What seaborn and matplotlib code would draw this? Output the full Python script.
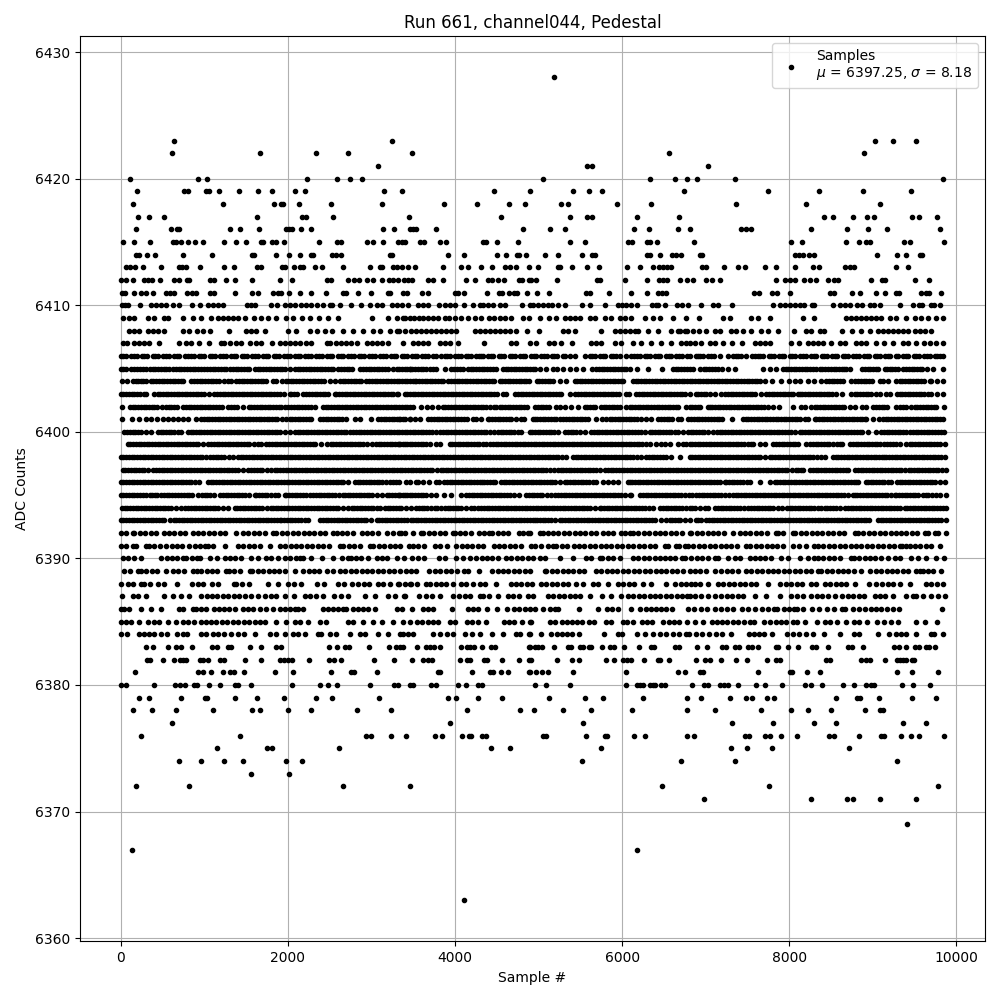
import matplotlib
matplotlib.use("Agg")
import matplotlib.pyplot as plt
import pandas as pd
import seaborn as sns

s6428 = [5184]
s6423 = [632, 3248, 9024, 9240, 9516]
s6422 = [608, 1664, 2336, 2720, 3488, 6564, 8892]
s6421 = [3080, 5576, 5640, 7032]
s6420 = [104, 920, 1028, 2228, 2588, 2744, 2888, 5052, 6336, 6636, 6780, 6900, 7356, 9840]
s6419 = [188, 752, 800, 1016, 1052, 1172, 1412, 1640, 1808, 2084, 2204, 3152, 3368, 4472, 4892, 5412, 5604, 5760, 6744, 7740, 8352, 8880, 9456]
s6418 = [140, 1220, 1832, 1916, 1940, 2132, 2516, 3128, 3872, 4268, 4640, 4832, 5268, 5352, 5940, 6348, 7368, 8196, 9084]
s6417 = [200, 332, 512, 1628, 2168, 2216, 2540, 3452, 4544, 5376, 5576, 5640, 6180, 6684, 8412, 8520, 8760, 8928, 9012, 9468, 9552, 9768]
s6416 = [176, 596, 668, 692, 1304, 1424, 1652, 1976, 2012, 2048, 2156, 2276, 3140, 3272, 3464, 3500, 3536, 3776, 4808, 5136, 5316, 6144, 6324, 6672, 6816, 7424, 7484, 7544, 8256, 8688, 8940, 9168, 9804]
s6415 = [32, 152, 344, 620, 656, 716, 800, 884, 980, 1232, 1376, 1496, 1676, 1700, 1808, 1856, 1952, 2372, 2588, 2636, 2948, 3020, 3140, 3320, 3368, 3404, 3584, 3632, 3824, 3896, 4340, 4376, 4496, 4748, 5376, 5556, 6072, 6120, 6300, 6336, 6420, 6864, 8016, 8148, 8676, 8832, 8916, 8964, 9372, 9444, 9852]
s6414 = [176, 212, 308, 404, 740, 1088, 1568, 1592, 1856, 2012, 2144, 2276, 2300, 2528, 2576, 2636, 3224, 3248, 3920, 4112, 4496, 4604, 4736, 4760, 4844, 5076, 5232, 5520, 5640, 5676, 6300, 6336, 6456, 6600, 6648, 6708, 6936, 6960, 8064, 8112, 8160, 8232, 8292, 9048, 9288, 9396, 9564, 9588]
s6413 = [68, 104, 164, 260, 476, 692, 728, 776, 944, 1232, 1352, 1628, 1676, 1928, 1964, 2072, 2144, 2180, 2324, 2408, 2660, 2984, 3104, 3128, 3260, 3308, 3368, 3440, 3524, 3860, 4076, 4160, 4316, 4448, 4592, 4652, 4724, 4880, 4992, 5232, 5256, 5400, 5580, 5724, 6056, 6216, 6372, 6444, 6492, 6540, 6588, 6960, 7008, 7224, 7392, 7464, 7704, 7836, 8064, 8280, 8352, 8664, 8724, 8772, 9276, 9420]
s6412 = [0, 68, 140, 280, 320, 368, 464, 636, 700, 788, 820, 1068, 1120, 1256, 1364, 1568, 1900, 2052, 2472, 2520, 2720, 2792, 2852, 2948, 3020, 3124, 3212, 3260, 3320, 3392, 3440, 3480, 3680, 3740, 3860, 4136, 4244, 4400, 4440, 4508, 4580, 4760, 4800, 4880, 4912, 4964, 5220, 5700, 5740, 6036, 6300, 6444, 6492, 6540, 6696, 6780, 6852, 7004, 7072, 7176, 7836, 7952, 8012, 8072, 8172, 8244, 8320, 8460, 8540, 8588, 8976, 9108, 9148, 9504, 9672]
s6411 = [12, 52, 152, 236, 300, 380, 540, 590, 640, 788, 850, 900, 1068, 1120, 1364, 1568, 1640, 1820, 1880, 1920, 2012, 2144, 2276, 2460, 2660, 2692, 2840, 3000, 3200, 3220, 3372, 3420, 3600, 3680, 4000, 4040, 4112, 4388, 4520, 4560, 4640, 4700, 4740, 4860, 4980, 5124, 5572, 5612, 5844, 6108, 6300, 6432, 6472, 6520, 7580, 7632, 7792, 7852, 8004, 8484, 8540, 8748, 8844, 9036, 9144, 9272, 9312, 9576, 9636, 9672, 9816]
s6410 = [10, 50, 90, 230, 360, 420, 480, 540, 620, 700, 854, 950, 1042, 1100, 1160, 1220, 1510, 1560, 1600, 1800, 1870, 1960, 2020, 2080, 2160, 2220, 2280, 2350, 2420, 2500, 2530, 2620, 2760, 2880, 2980, 3060, 3130, 3250, 3300, 3370, 3440, 3560, 3620, 3680, 3812, 3880, 3940, 4000, 4108, 4212, 4300, 4340, 4400, 4460, 4540, 4600, 4800, 4900, 4932, 4992, 5052, 5112, 5164, 5232, 5312, 5524, 5616, 5796, 5952, 6000, 6050, 6104, 6172, 6352, 6400, 6432, 6512, 6652, 6712, 6792, 6948, 7092, 7152, 7320, 7804, 7884, 7952, 8012, 8072, 8132, 8172, 8272, 8300, 8520, 8604, 8672, 8732, 8812, 8876, 8964, 9012, 9084, 9324, 9476, 9552, 9592, 9692, 9732, 9804]
s6409 = [22, 102, 160, 322, 402, 522, 562, 750, 862, 962, 1082, 1160, 1222, 1282, 1342, 1400, 1482, 1590, 1682, 1760, 1862, 1982, 2062, 2174, 2262, 2372, 2480, 2600, 3002, 3202, 3302, 3402, 3375, 3455, 3510, 3570, 3620, 3680, 3740, 3800, 3874, 3930, 4000, 4075, 4153, 4233, 4313, 4412, 4472, 4532, 4592, 4672, 4811, 4890, 5011, 5130, 5210, 5310, 5370, 5430, 5490, 5610, 5670, 5790, 5870, 5970, 6030, 6110, 6270, 6370, 6450, 6607, 6760, 6918, 7206, 7286, 7545, 7625, 7764, 8163, 8295, 8682, 8742, 8802, 8862, 8922, 8982, 9042, 9102, 9200, 9281, 9400, 9500, 9580, 9660, 9760, 9840]
s6408 = [102, 162, 222, 322, 382, 442, 522, 742, 822, 910, 982, 1062, 1294, 1502, 1562, 1622, 1722, 2002, 2102, 2262, 2342, 2442, 2522, 2662, 2782, 2902, 3022, 3102, 3222, 3302, 3402, 3335, 3475, 3535, 3595, 3655, 3715, 3775, 3835, 3895, 3955, 4015, 4233, 4293, 4353, 4413, 4473, 4533, 4593, 4653, 4733, 4860, 5003, 5290, 5350, 5430, 5749, 5909, 5969, 6029, 6090, 6150, 6190, 6308, 6428, 6587, 6667, 6747, 6690, 6770, 6850, 6920, 7007, 7107, 7174, 7306, 7366, 7445, 7537, 7665, 7745, 7860, 8056, 8203, 8263, 8363, 8411, 8630, 8754, 8854, 8961, 9061, 9121, 9181, 9241, 9301, 9361, 9421, 9500, 9560, 9620, 9690]
s6407 = [22, 80, 162, 222, 282, 342, 462, 702, 782, 842, 934, 1054, 1202, 1240, 1302, 1382, 1442, 1542, 1622, 1682, 1810, 1910, 1970, 2030, 2090, 2150, 2222, 2282, 2462, 2502, 2580, 2640, 2700, 2760, 2822, 2942, 3002, 3062, 3122, 3202, 3382, 3495, 3555, 3615, 3675, 3814, 3874, 3934, 4033, 4344, 4671, 4731, 4899, 4963, 5130, 5190, 5270, 5398, 5629, 5689, 5749, 5909, 5988, 6128, 6220, 6347, 6467, 6587, 6707, 6767, 6807, 6867, 6947, 7046, 7106, 7206, 7313, 7433, 7585, 7645, 7705, 7772, 8016, 8115, 8223, 8283, 8343, 8403, 8503, 8602, 8662, 8802, 8862, 8922, 9041, 9133, 9240, 9360, 9420, 9520, 9612, 9687, 9760, 9840]
s6406 = [0, 62, 125, 190, 250, 318, 380, 445, 510, 575, 640, 702, 770, 810, 870, 935, 1000, 1062, 1130, 1190, 1256, 1320, 1383, 1450, 1510, 1575, 1640, 1702, 1766, 1830, 1890, 1955, 2020, 2082, 2150, 2210, 2276, 2340, 2402, 2468, 2530, 2596, 2660, 2722, 2785, 2850, 2912, 2976, 3040, 3102, 3168, 3230, 3296, 3360, 3420, 3484, 3548, 3610, 3675, 3738, 3835, 3874, 3940, 4002, 4066, 4130, 4192, 4256, 4313, 4333, 4398, 4460, 4525, 4588, 4652, 4715, 4780, 4842, 4906, 4970, 5034, 5098, 5160, 5225, 5288, 5370, 5438, 5550, 5609, 5672, 5735, 5800, 5862, 5925, 5969, 6048, 6110, 6172, 6208, 6268, 6330, 6395, 6458, 6520, 6585, 6648, 6710, 6775, 6806, 6880, 6906, 6970, 7032, 7095, 7166, 7265, 7330, 7392, 7425, 7485, 7548, 7585, 7625, 7690, 7752, 7815, 7880, 7942, 8005, 8070, 8132, 8195, 8260, 8322, 8386, 8450, 8512, 8575, 8640, 8702, 8766, 8830, 8892, 8956, 9020, 9082, 9146, 9210, 9272, 9300, 9360, 9424, 9488, 9550, 9614, 9678, 9740, 9804, 9840]
s6405 = [0, 60, 120, 160, 225, 300, 350, 415, 480, 545, 580, 630, 695, 760, 825, 890, 960, 1000, 1065, 1130, 1195, 1260, 1310, 1375, 1440, 1505, 1600, 1640, 1705, 1770, 1835, 1900, 1965, 2030, 2080, 2120, 2185, 2250, 2315, 2380, 2445, 2510, 2600, 2640, 2705, 2770, 2860, 2900, 2965, 3030, 3095, 3160, 3260, 3300, 3365, 3460, 3395, 3460, 3525, 3590, 3655, 3735, 3774, 3874, 3953, 4020, 4093, 4153, 4218, 4284, 4350, 4415, 4492, 4572, 4637, 4702, 4768, 4833, 4900, 4960, 5011, 5090, 5170, 5218, 5290, 5370, 5450, 5530, 5640, 5690, 5755, 5820, 5885, 5950, 6050, 6088, 6176, 6308, 6475, 6607, 6672, 6740, 6806, 6847, 6927, 6974, 7040, 7105, 7198, 7265, 7353, 7685, 7765, 7844, 7924, 7990, 8055, 8120, 8185, 8250, 8315, 8363, 8428, 8495, 8560, 8625, 8674, 8730, 8873, 8940, 9005, 9061, 9141, 9205, 9270, 9360, 9400, 9465, 9530, 9592, 9648, 9720, 9840]
s6404 = [20, 80, 140, 180, 245, 300, 360, 425, 490, 555, 620, 685, 750, 840, 880, 945, 1010, 1075, 1140, 1240, 1282, 1322, 1380, 1445, 1510, 1575, 1640, 1705, 1820, 1860, 1925, 1980, 2000, 2065, 2130, 2195, 2260, 2325, 2390, 2500, 2562, 2620, 2685, 2750, 2815, 2880, 2940, 3005, 3070, 3135, 3200, 3265, 3330, 3395, 3460, 3525, 3495, 3535, 3600, 3665, 3730, 3795, 3860, 3914, 3953, 4018, 4083, 4148, 4213, 4278, 4343, 4408, 4472, 4532, 4597, 4662, 4727, 4792, 4851, 4883, 4979, 5044, 5109, 5174, 5250, 5330, 5430, 5495, 5560, 5625, 5690, 5755, 5820, 5885, 5950, 6008, 6128, 6193, 6258, 6323, 6388, 6453, 6518, 6583, 6648, 6713, 6778, 6806, 6870, 6935, 7000, 7065, 7130, 7195, 7260, 7325, 7390, 7455, 7520, 7585, 7645, 7704, 7792, 7904, 8000, 8065, 8123, 8223, 8290, 8383, 8443, 8508, 8573, 8638, 8742, 8790, 8855, 8920, 8985, 9081, 9121, 9186, 9281, 9320, 9385, 9450, 9515, 9580, 9680, 9700, 9765, 9840]
s6403 = [0, 65, 130, 195, 280, 300, 400, 440, 505, 570, 635, 700, 765, 830, 895, 960, 1060, 1120, 1185, 1250, 1315, 1380, 1445, 1510, 1575, 1640, 1705, 1770, 1835, 1900, 2020, 2040, 2105, 2180, 2220, 2285, 2350, 2415, 2480, 2560, 2580, 2645, 2710, 2775, 2840, 2905, 2970, 3035, 3100, 3165, 3230, 3300, 3320, 3395, 3460, 3525, 3590, 3655, 3720, 3785, 3850, 3915, 3980, 4045, 4110, 4175, 4240, 4305, 4370, 4435, 4500, 4572, 4612, 4712, 4752, 4817, 4882, 4947, 5012, 5077, 5142, 5207, 5272, 5378, 5440, 5505, 5570, 5635, 5700, 5765, 5830, 5895, 5960, 6048, 6080, 6168, 6233, 6298, 6363, 6428, 6493, 6558, 6623, 6688, 6753, 6806, 6880, 6945, 7006, 7046, 7111, 7186, 7226, 7265, 7330, 7395, 7460, 7525, 7590, 7665, 7724, 7789, 7854, 7919, 7984, 8049, 8103, 8123, 8188, 8253, 8318, 8383, 8448, 8515, 8562, 8627, 8742, 8782, 8847, 8912, 8977, 9041, 9081, 9161, 9209, 9288, 9353, 9418, 9483, 9548, 9613, 9660, 9700, 9765, 9840]
s6402 = [14, 110, 175, 240, 305, 370, 435, 490, 540, 605, 670, 740, 780, 845, 910, 975, 1040, 1105, 1170, 1280, 1320, 1385, 1460, 1530, 1595, 1660, 1725, 1790, 1855, 1920, 2000, 2040, 2105, 2170, 2235, 2320, 2420, 2485, 2550, 2615, 2680, 2745, 2810, 2875, 2940, 3005, 3070, 3135, 3200, 3265, 3330, 3395, 3460, 3495, 3594, 3660, 3725, 3794, 3854, 3919, 3984, 4049, 4114, 4179, 4244, 4309, 4374, 4472, 4492, 4532, 4597, 4662, 4727, 4792, 4857, 4951, 4991, 5056, 5121, 5210, 5250, 5315, 5390, 5470, 5550, 5615, 5680, 5749, 5777, 5842, 5907, 5972, 6048, 6088, 6153, 6218, 6283, 6348, 6413, 6478, 6543, 6608, 6673, 6767, 6807, 6872, 6937, 7026, 7046, 7111, 7176, 7241, 7306, 7371, 7436, 7501, 7566, 7631, 7696, 7804, 7876, 8044, 8143, 8183, 8263, 8303, 8368, 8433, 8498, 8563, 8628, 8722, 8782, 8873, 8921, 9001, 9041, 9106, 9171, 9281, 9328, 9393, 9460, 9500, 9565, 9630, 9695, 9760, 9851]
s6401 = [14, 134, 222, 302, 362, 434, 500, 565, 620, 682, 740, 810, 900, 965, 1030, 1095, 1160, 1225, 1290, 1355, 1420, 1485, 1550, 1615, 1680, 1745, 1810, 1875, 1980, 2020, 2085, 2150, 2215, 2280, 2380, 2420, 2485, 2550, 2615, 2700, 2800, 2865, 3000, 3080, 3145, 3210, 3275, 3340, 3405, 3460, 3335, 3455, 3515, 3580, 3675, 3714, 3779, 3844, 3909, 3974, 4039, 4104, 4213, 4245, 4310, 4392, 4412, 4477, 4542, 4607, 4672, 4792, 4831, 4931, 4951, 5016, 5081, 5146, 5211, 5290, 5330, 5395, 5460, 5525, 5590, 5689, 5754, 5809, 5849, 5914, 5979, 6044, 6109, 6174, 6288, 6347, 6427, 6467, 6532, 6597, 6667, 6707, 6787, 6827, 6892, 6957, 7026, 7066, 7131, 7196, 7317, 7445, 7510, 7575, 7640, 7705, 7770, 7835, 7900, 7965, 8030, 8095, 8183, 8223, 8303, 8323, 8388, 8453, 8518, 8583, 8648, 8713, 8778, 8843, 8902, 8921, 9001, 9069, 9121, 9186, 9251, 9316, 9381, 9446, 9511, 9576, 9641, 9706, 9771, 9840]
s6400 = [42, 107, 172, 237, 362, 442, 507, 572, 637, 722, 802, 867, 932, 997, 1062, 1127, 1192, 1257, 1322, 1387, 1452, 1517, 1582, 1647, 1712, 1777, 1842, 1907, 2022, 2082, 2147, 2212, 2277, 2342, 2407, 2472, 2537, 2602, 2667, 2742, 2782, 2847, 2912, 2977, 3042, 3107, 3172, 3237, 3302, 3367, 3460, 3335, 3400, 3525, 3590, 3655, 3720, 3814, 3854, 3919, 3984, 4049, 4114, 4179, 4244, 4309, 4374, 4472, 4512, 4577, 4642, 4707, 4792, 4891, 4956, 5021, 5086, 5151, 5230, 5318, 5383, 5448, 5550, 5629, 5694, 5759, 5824, 5889, 5954, 6019, 6084, 6149, 6228, 6276, 6327, 6392, 6457, 6522, 6587, 6627, 6667, 6727, 6787, 6852, 6917, 6982, 7086, 7134, 7199, 7264, 7329, 7394, 7459, 7524, 7589, 7654, 7719, 7784, 7849, 7914, 7979, 8063, 8123, 8188, 8253, 8318, 8383, 8448, 8513, 8578, 8643, 8708, 8773, 8842, 8873, 8941, 9033, 9101, 9166, 9231, 9296, 9361, 9440, 9480, 9545, 9610, 9675, 9740, 9850]
s6399 = [82, 147, 212, 277, 342, 407, 472, 537, 602, 667, 732, 797, 862, 927, 1042, 1082, 1147, 1212, 1277, 1342, 1407, 1472, 1537, 1642, 1682, 1742, 1807, 1872, 1937, 2002, 2067, 2132, 2197, 2262, 2327, 2462, 2510, 2575, 2640, 2705, 2770, 2835, 2902, 2942, 3002, 3054, 3119, 3184, 3249, 3314, 3379, 3460, 3335, 3400, 3525, 3590, 3655, 3766, 3814, 3934, 3965, 4030, 4095, 4160, 4225, 4290, 4372, 4420, 4485, 4550, 4615, 4680, 4745, 4810, 4875, 4940, 5005, 5070, 5135, 5200, 5265, 5330, 5395, 5460, 5525, 5590, 5655, 5720, 5785, 5850, 5915, 5980, 6045, 6110, 6175, 6240, 6335, 6407, 6467, 6507, 6572, 6667, 6727, 6806, 6872, 6937, 7002, 7067, 7132, 7197, 7262, 7327, 7392, 7457, 7545, 7565, 7645, 7710, 7804, 7844, 7909, 7974, 8039, 8104, 8203, 8251, 8316, 8381, 8446, 8522, 8570, 8635, 8730, 8762, 8827, 8892, 8957, 9022, 9087, 9169, 9209, 9274, 9392, 9440, 9505, 9570, 9635, 9700, 9765, 9860]
s6398 = [0, 65, 130, 195, 260, 325, 390, 455, 520, 585, 650, 715, 780, 845, 910, 975, 1062, 1102, 1167, 1232, 1342, 1402, 1467, 1532, 1597, 1662, 1727, 1792, 1857, 1922, 1987, 2052, 2117, 2182, 2247, 2312, 2377, 2442, 2507, 2572, 2637, 2702, 2767, 2832, 2897, 2962, 3027, 3092, 3157, 3222, 3287, 3352, 3417, 3482, 3547, 3612, 3677, 3742, 3807, 3872, 3937, 4002, 4067, 4132, 4197, 4262, 4327, 4392, 4457, 4522, 4587, 4652, 4717, 4782, 4847, 4912, 4977, 5042, 5107, 5172, 5237, 5330, 5410, 5475, 5540, 5605, 5670, 5735, 5800, 5865, 5930, 5995, 6060, 6125, 6228, 6288, 6353, 6418, 6483, 6587, 6695, 6806, 6872, 6937, 7002, 7067, 7132, 7197, 7262, 7327, 7392, 7457, 7522, 7587, 7645, 7712, 7764, 7829, 7894, 7959, 8024, 8089, 8154, 8219, 8284, 8383, 8423, 8522, 8587, 8652, 8717, 8782, 8847, 8912, 8977, 9042, 9113, 9129, 9194, 9259, 9324, 9389, 9454, 9519, 9584, 9649, 9714, 9779, 9860]
s6397 = [22, 87, 152, 217, 282, 382, 422, 487, 552, 617, 682, 747, 812, 877, 942, 1007, 1072, 1137, 1202, 1267, 1332, 1397, 1522, 1562, 1627, 1692, 1802, 1842, 1907, 1972, 2037, 2102, 2167, 2232, 2297, 2362, 2427, 2492, 2557, 2622, 2687, 2752, 2817, 2882, 2947, 3012, 3077, 3142, 3207, 3272, 3337, 3402, 3467, 3532, 3597, 3662, 3727, 3834, 3854, 3919, 3984, 4049, 4114, 4179, 4244, 4309, 4374, 4439, 4504, 4569, 4634, 4699, 4764, 4829, 4894, 4959, 5024, 5089, 5190, 5230, 5295, 5360, 5425, 5490, 5555, 5620, 5689, 5729, 5789, 5829, 5894, 5959, 6024, 6089, 6154, 6219, 6284, 6349, 6414, 6479, 6544, 6609, 6674, 6739, 6806, 6872, 6937, 7002, 7067, 7132, 7197, 7262, 7327, 7392, 7457, 7522, 7587, 7652, 7717, 7782, 7847, 7912, 7977, 8083, 8103, 8168, 8251, 8283, 8348, 8413, 8478, 8543, 8608, 8682, 8702, 8790, 8822, 8887, 8952, 9017, 9082, 9147, 9212, 9277, 9342, 9432, 9460, 9525, 9590, 9655, 9720, 9785, 9870]
s6396 = [0, 65, 130, 195, 260, 325, 390, 455, 520, 585, 650, 715, 780, 845, 940, 1042, 1107, 1172, 1237, 1302, 1367, 1432, 1497, 1562, 1627, 1692, 1757, 1822, 1887, 1952, 2017, 2082, 2147, 2212, 2277, 2342, 2407, 2472, 2537, 2602, 2662, 2722, 2802, 2867, 2932, 2997, 3062, 3127, 3222, 3262, 3327, 3415, 3455, 3535, 3555, 3620, 3685, 3774, 3806, 3871, 3936, 4001, 4066, 4131, 4196, 4261, 4325, 4352, 4417, 4482, 4552, 4580, 4645, 4710, 4775, 4843, 4871, 4936, 5001, 5066, 5131, 5196, 5310, 5342, 5407, 5472, 5537, 5602, 5689, 5769, 5829, 5889, 5954, 6068, 6088, 6153, 6218, 6283, 6348, 6413, 6478, 6543, 6608, 6673, 6738, 6806, 6872, 6937, 7002, 7067, 7132, 7226, 7246, 7311, 7376, 7441, 7533, 7645, 7764, 7824, 7889, 7954, 8019, 8084, 8149, 8214, 8279, 8344, 8409, 8474, 8539, 8604, 8669, 8734, 8802, 8822, 8914, 8941, 9006, 9071, 9136, 9220, 9288, 9353, 9418, 9483, 9548, 9613, 9678, 9743, 9860]
s6395 = [0, 65, 130, 195, 260, 350, 374, 439, 522, 550, 615, 680, 762, 790, 855, 974, 1002, 1067, 1182, 1222, 1287, 1352, 1417, 1482, 1602, 1622, 1687, 1752, 1842, 1882, 1962, 1982, 2047, 2112, 2177, 2262, 2302, 2367, 2432, 2497, 2562, 2662, 2682, 2747, 2812, 2877, 2942, 3007, 3122, 3182, 3247, 3312, 3377, 3460, 3335, 3400, 3525, 3590, 3655, 3774, 3866, 3953, 4073, 4133, 4198, 4263, 4328, 4393, 4458, 4523, 4588, 4653, 4771, 4851, 4916, 4981, 5046, 5150, 5202, 5267, 5332, 5397, 5462, 5527, 5592, 5657, 5722, 5787, 5852, 5917, 5982, 6088, 6108, 6208, 6248, 6313, 6378, 6443, 6508, 6573, 6638, 6703, 6798, 6839, 6886, 6951, 7016, 7081, 7146, 7226, 7277, 7325, 7390, 7455, 7520, 7585, 7650, 7715, 7780, 7845, 7910, 7975, 8040, 8103, 8131, 8196, 8261, 8326, 8391, 8456, 8521, 8586, 8651, 8762, 8782, 8847, 8912, 8977, 9042, 9107, 9172, 9260, 9281, 9346, 9411, 9476, 9540, 9600, 9665, 9760, 9800, 9870]
s6394 = [14, 79, 144, 209, 274, 339, 404, 469, 534, 599, 722, 774, 839, 904, 969, 1034, 1099, 1164, 1282, 1362, 1427, 1492, 1557, 1622, 1687, 1802, 1822, 1887, 1952, 2017, 2082, 2147, 2212, 2277, 2342, 2407, 2472, 2537, 2602, 2722, 2762, 2827, 2892, 2957, 3022, 3102, 3162, 3227, 3292, 3357, 3475, 3535, 3600, 3665, 3754, 3782, 3834, 3874, 3914, 3942, 4007, 4072, 4193, 4221, 4273, 4313, 4378, 4443, 4508, 4573, 4638, 4703, 4768, 4833, 4898, 4963, 5028, 5093, 5158, 5223, 5288, 5353, 5418, 5483, 5548, 5613, 5729, 5749, 5814, 5879, 5944, 6009, 6074, 6139, 6204, 6269, 6367, 6455, 6520, 6585, 6650, 6715, 6806, 6872, 6986, 7026, 7106, 7146, 7211, 7276, 7341, 7406, 7505, 7545, 7610, 7675, 7740, 7805, 7916, 7972, 8037, 8102, 8167, 8232, 8297, 8383, 8423, 8488, 8553, 8670, 8702, 8767, 8832, 8897, 8962, 9027, 9092, 9157, 9222, 9287, 9380, 9412, 9477, 9542, 9607, 9672, 9737, 9802, 9870]
s6393 = [0, 65, 130, 195, 260, 325, 390, 455, 520, 642, 662, 727, 792, 857, 922, 987, 1052, 1117, 1182, 1247, 1312, 1377, 1442, 1507, 1572, 1637, 1702, 1767, 1832, 1902, 1922, 1987, 2052, 2117, 2202, 2242, 2382, 2420, 2485, 2550, 2615, 2680, 2745, 2810, 2875, 2940, 3062, 3094, 3159, 3224, 3289, 3354, 3419, 3475, 3495, 3560, 3625, 3690, 3755, 3820, 3885, 3950, 4015, 4080, 4145, 4210, 4275, 4340, 4405, 4470, 4535, 4600, 4665, 4730, 4795, 4860, 4931, 4951, 5016, 5081, 5146, 5250, 5282, 5347, 5412, 5477, 5542, 5607, 5672, 5737, 5802, 5867, 5932, 5997, 6062, 6127, 6192, 6257, 6322, 6387, 6527, 6567, 6632, 6697, 6806, 6880, 6946, 7006, 7071, 7136, 7201, 7266, 7331, 7396, 7461, 7526, 7591, 7656, 7721, 7786, 7851, 7916, 7981, 8046, 8111, 8176, 8241, 8306, 8371, 8436, 8501, 8566, 8631, 8696, 8761, 8826, 8891, 8956, 9060, 9125, 9190, 9255, 9320, 9385, 9450, 9515, 9580, 9645, 9710, 9775, 9870]
s6392 = [0, 65, 142, 162, 227, 292, 357, 422, 522, 574, 639, 704, 769, 862, 922, 987, 1052, 1117, 1182, 1247, 1382, 1462, 1527, 1592, 1657, 1722, 1822, 1862, 1927, 1992, 2057, 2122, 2187, 2252, 2317, 2382, 2447, 2542, 2582, 2647, 2712, 2777, 2882, 2942, 3007, 3072, 3182, 3262, 3327, 3402, 3355, 3495, 3594, 3622, 3687, 3752, 3817, 3882, 3974, 3994, 4059, 4124, 4189, 4285, 4352, 4412, 4444, 4509, 4574, 4639, 4763, 4811, 4871, 4899, 5011, 5051, 5111, 5170, 5235, 5300, 5365, 5430, 5495, 5560, 5625, 5690, 5769, 5829, 5894, 5988, 6028, 6088, 6128, 6193, 6258, 6323, 6388, 6453, 6518, 6583, 6648, 6713, 6806, 6827, 6892, 6957, 7022, 7087, 7152, 7217, 7325, 7405, 7470, 7535, 7600, 7665, 7730, 7844, 7864, 7929, 8044, 8071, 8136, 8201, 8266, 8331, 8396, 8461, 8526, 8591, 8656, 8782, 8822, 8887, 8952, 9017, 9082, 9147, 9212, 9277, 9340, 9400, 9465, 9530, 9620, 9660, 9740, 9780, 9870]
s6391 = [0, 65, 150, 182, 302, 334, 400, 470, 542, 607, 672, 737, 822, 882, 947, 1002, 1042, 1107, 1242, 1402, 1467, 1532, 1597, 1662, 1790, 1902, 1967, 2032, 2097, 2162, 2227, 2292, 2357, 2422, 2487, 2622, 2662, 2727, 2792, 2857, 2982, 3022, 3087, 3152, 3217, 3282, 3347, 3447, 3495, 3560, 3625, 3754, 3822, 3905, 4013, 4078, 4143, 4208, 4273, 4338, 4472, 4524, 4589, 4654, 4719, 4784, 4911, 4951, 5031, 5111, 5170, 5210, 5275, 5340, 5418, 5482, 5547, 5612, 5677, 5742, 5807, 5872, 5937, 6002, 6067, 6132, 6197, 6262, 6327, 6392, 6507, 6547, 6647, 6679, 6747, 6787, 6852, 6917, 6982, 7047, 7112, 7177, 7242, 7307, 7372, 7485, 7533, 7598, 7663, 7728, 7793, 7858, 7923, 8044, 8115, 8203, 8295, 8343, 8408, 8473, 8538, 8603, 8668, 8733, 8798, 8863, 8928, 8993, 9058, 9123, 9188, 9253, 9320, 9352, 9400, 9440, 9505, 9570, 9635, 9700, 9807]
s6390 = [22, 87, 162, 242, 482, 547, 612, 677, 750, 782, 847, 910, 942, 1062, 1150, 1242, 1307, 1372, 1437, 1562, 1642, 1742, 1802, 1882, 1962, 2027, 2092, 2142, 2182, 2274, 2402, 2534, 2650, 2722, 2750, 2815, 2880, 2962, 3062, 3127, 3182, 3302, 3390, 3487, 3554, 3634, 3806, 3885, 4013, 4093, 4181, 4253, 4318, 4383, 4448, 4513, 4612, 4671, 4739, 4804, 4869, 4934, 5011, 5079, 5258, 5410, 5562, 5627, 5729, 5761, 5826, 5891, 5968, 6128, 6193, 6258, 6323, 6388, 6447, 6507, 6572, 6637, 6747, 6719, 6827, 6892, 6957, 7022, 7106, 7146, 7265, 7345, 7410, 7525, 7585, 7650, 7715, 7780, 7904, 7984, 8131, 8223, 8295, 8343, 8408, 8473, 8538, 8603, 8742, 8770, 8835, 8900, 8965, 9030, 9095, 9181, 9260, 9325, 9460, 9540, 9632, 9760, 9851]
s6389 = [42, 107, 202, 242, 307, 372, 437, 542, 622, 687, 752, 862, 910, 962, 1027, 1092, 1157, 1262, 1294, 1359, 1424, 1542, 1574, 1639, 1704, 1769, 1834, 1899, 1964, 2082, 2182, 2247, 2312, 2377, 2462, 2534, 2622, 2687, 2752, 2817, 2882, 2947, 3012, 3077, 3142, 3207, 3272, 3337, 3415, 3475, 3535, 3694, 3759, 3824, 3889, 3954, 4019, 4113, 4153, 4285, 4444, 4509, 4574, 4639, 4704, 4769, 4834, 4899, 5071, 5091, 5156, 5221, 5286, 5351, 5416, 5481, 5546, 5689, 5749, 5814, 5879, 5944, 6009, 6074, 6139, 6204, 6269, 6334, 6399, 6464, 6529, 6594, 6659, 6724, 6806, 6872, 6937, 7002, 7106, 7186, 7251, 7316, 7381, 7485, 7545, 7610, 7675, 7740, 7805, 7870, 7935, 8000, 8065, 8130, 8195, 8260, 8343, 8383, 8448, 8513, 8578, 8643, 8708, 8773, 8862, 8969, 9034, 9099, 9164, 9229, 9294, 9359, 9424, 9520, 9560, 9600, 9660, 9725, 9820]
s6388 = [2, 82, 147, 242, 282, 347, 442, 514, 674, 854, 919, 984, 1094, 1162, 1350, 1382, 1447, 1534, 1762, 1882, 2002, 2067, 2162, 2350, 2430, 2602, 2667, 2762, 2842, 2907, 2972, 3082, 3142, 3222, 3322, 3402, 3460, 3335, 3475, 3540, 3654, 3702, 3767, 3832, 3897, 3974, 4073, 4133, 4213, 4293, 4358, 4492, 4671, 4731, 4791, 4856, 4921, 5031, 5091, 5156, 5221, 5286, 5351, 5450, 5530, 5649, 5714, 5829, 5949, 6014, 6079, 6144, 6248, 6347, 6519, 6627, 6707, 6767, 6827, 6867, 6932, 7026, 7146, 7211, 7276, 7341, 7406, 7471, 7536, 7601, 7745, 7884, 7964, 8024, 8089, 8154, 8263, 8323, 8423, 8488, 8553, 8618, 8683, 8782, 8953, 9041, 9113, 9178, 9240, 9320, 9440, 9632, 9697, 9762, 9840]
s6387 = [14, 142, 202, 302, 522, 622, 722, 822, 962, 1027, 1092, 1157, 1222, 1287, 1352, 1417, 1482, 1562, 1642, 1722, 1802, 1862, 1962, 2070, 2202, 2262, 2340, 2422, 2550, 2635, 2722, 2922, 3042, 3202, 3282, 3402, 3387, 3574, 3654, 3730, 3814, 3973, 4053, 4118, 4183, 4293, 4340, 4412, 4512, 4632, 4691, 4771, 4871, 4931, 5111, 5176, 5241, 5306, 5371, 5436, 5501, 5609, 5761, 5861, 5988, 6068, 6133, 6198, 6263, 6328, 6393, 6458, 6523, 6588, 6653, 6718, 6806, 6775, 6867, 6946, 7026, 7114, 7186, 7251, 7316, 7381, 7446, 7585, 7724, 7884, 8024, 8089, 8163, 8263, 8328, 8393, 8458, 8542, 8630, 8702, 8767, 8832, 8897, 9021, 9081, 9146, 9240, 9400, 9480, 9520, 9600, 9700, 9780, 9860]
s6386 = [0, 40, 100, 236, 356, 476, 692, 740, 860, 900, 960, 1020, 1120, 1180, 1240, 1300, 1364, 1460, 1520, 1580, 1668, 1732, 1820, 1900, 1960, 2020, 2080, 2120, 2180, 2420, 2480, 2540, 2600, 2660, 2700, 2780, 2840, 2900, 2960, 3040, 3300, 3360, 3480, 3620, 3680, 3740, 3964, 4160, 4220, 4280, 4380, 4500, 4620, 4700, 4760, 4840, 4900, 4960, 5052, 5132, 5200, 5232, 5484, 5712, 5820, 5880, 5952, 6100, 6212, 6280, 6340, 6400, 6460, 6520, 6592, 6792, 6860, 6940, 7020, 7112, 7180, 7260, 7332, 7432, 7500, 7592, 7672, 7740, 7820, 7852, 7932, 8000, 8060, 8092, 8164, 8272, 8352, 8452, 8532, 8632, 8672, 8760, 8832, 8900, 8972, 9040, 9100, 9172, 9240, 9312, 9824]
s6385 = [0, 60, 120, 220, 320, 400, 460, 560, 660, 740, 800, 880, 960, 1020, 1080, 1145, 1210, 1275, 1340, 1405, 1470, 1535, 1600, 1665, 1720, 1860, 1980, 2080, 2140, 2240, 2380, 2460, 2720, 2780, 2900, 3020, 3120, 3260, 3380, 3460, 3540, 3600, 3680, 3740, 3800, 3940, 4000, 4140, 4200, 4280, 4368, 4580, 4640, 4700, 4800, 4900, 4912, 5132, 5200, 5280, 5340, 5400, 5460, 5520, 5600, 5660, 5812, 5872, 6012, 6052, 6132, 6232, 6292, 6352, 6492, 6560, 6620, 6680, 6772, 6872, 6972, 7072, 7140, 7200, 7260, 7330, 7390, 7452, 7532, 7580, 7692, 7772, 7840, 7900, 7960, 8040, 8092, 8184, 8332, 8432, 8492, 8572, 8680, 8772, 8840, 8932, 9052, 9132, 9212, 9300, 9512, 9628, 9772]
s6384 = [0, 80, 220, 280, 340, 400, 480, 552, 668, 740, 788, 960, 1020, 1100, 1160, 1240, 1320, 1400, 1480, 1600, 1780, 1860, 1960, 2060, 2120, 2204, 2360, 2400, 2500, 2572, 2740, 2860, 2920, 3080, 3200, 3340, 3380, 3440, 3500, 3740, 3820, 3900, 3980, 4120, 4200, 4300, 4440, 4568, 4732, 4780, 4880, 4892, 5032, 5152, 5220, 5280, 5340, 5400, 5484, 5784, 5952, 5992, 6172, 6272, 6372, 6450, 6524, 6604, 6680, 6760, 6800, 6880, 6960, 7040, 7120, 7200, 7300, 7512, 7572, 7632, 7692, 7792, 7972, 8040, 8120, 8200, 8280, 8412, 8612, 8772, 8832, 9064, 9192, 9272, 9332, 9400, 9512, 9692, 9732, 9844]
s6383 = [296, 380, 560, 656, 716, 848, 1088, 1148, 1280, 1316, 1544, 1676, 1856, 1916, 2492, 2588, 2684, 2732, 2972, 3212, 3296, 3344, 3380, 3548, 3656, 3704, 3752, 3824, 4076, 4148, 4184, 4232, 4328, 4436, 4484, 4880, 4892, 4956, 4992, 5040, 5184, 5352, 5388, 5496, 5532, 5604, 5628, 5760, 5856, 5904, 6024, 6196, 6348, 6384, 6636, 6684, 6900, 7020, 7200, 7248, 7356, 7404, 7500, 7548, 7620, 7836, 7860, 7980, 8100, 8268, 8316, 8460, 8700, 8748, 8880, 9252, 9312, 9396, 9504, 9552, 9636, 9672, 9744]
s6382 = [308, 344, 508, 632, 704, 740, 776, 944, 980, 1040, 1184, 1232, 1484, 1676, 1904, 1952, 2000, 2048, 2252, 2492, 2552, 2636, 3032, 3272, 3488, 3620, 3680, 3728, 4064, 4148, 4184, 4352, 4388, 4556, 4760, 4880, 4908, 5220, 5400, 5484, 5808, 5904, 6012, 6060, 6108, 6264, 6432, 6456, 6564, 6888, 6996, 7056, 7188, 7368, 7488, 7728, 7836, 7884, 8436, 8488, 8856, 8916, 8964, 9144, 9288, 9324, 9360, 9396, 9468, 9492]
s6381 = [164, 920, 980, 1076, 1220, 1304, 1352, 1472, 1844, 2060, 2516, 2756, 2792, 3068, 3800, 3824, 4208, 4424, 4460, 4544, 4628, 4880, 4892, 4968, 5040, 5112, 5412, 6048, 6672, 6756, 6936, 6972, 7620, 8004, 8028, 8208, 8364, 9288, 9468, 9780]
s6380 = [8, 60, 392, 644, 704, 764, 872, 908, 1052, 1184, 1364, 1400, 1556, 2048, 2384, 2480, 2588, 2984, 3272, 3320, 3464, 3500, 3716, 3776, 4040, 4136, 4280, 4328, 4956, 5088, 5376, 6048, 6180, 6212, 6252, 6336, 6372, 6396, 6468, 6508, 6840, 6984, 7032, 7176, 7224, 7272, 7392, 7604, 7704, 7908, 8184, 8256, 8388, 8640, 8772, 8916, 8976, 9012, 9348, 9480, 9684]
s6379 = [212, 332, 716, 1004, 1028, 1364, 1628, 1952, 2336, 2528, 3092, 3920, 4016, 4280, 4556, 5124, 5556, 5772, 6252, 6780, 6948, 7296, 7476, 7548, 7728, 7812, 8556, 8808, 8844, 9072, 9468, 9756]
s6378 = [140, 368, 656, 1100, 1568, 1664, 2000, 2276, 2828, 3236, 4148, 4772, 4944, 5292, 5628, 6120, 6780, 7116, 7656, 8016, 8220, 8496, 8904, 9084, 9120]
s6377 = [608, 3944, 5532, 7320, 7800, 8292, 8556, 9360, 9636]
s6376 = [236, 1424, 2936, 2996, 3236, 3416, 3764, 3848, 4088, 4172, 4196, 4328, 4376, 5052, 5084, 5568, 5796, 5820, 6144, 6276, 6780, 6864, 7464, 7512, 7704, 7764, 7896, 8088, 8472, 8532, 8832, 9096, 9132, 9336, 9456, 9552, 9852]
s6375 = [1148, 1748, 1808, 2612, 4436, 4652, 5748, 7308, 7488, 7788, 8712]
s6374 = [692, 956, 1232, 1460, 1976, 2168, 5520, 6708, 7356, 9288]
s6373 = [1556, 2012]
s6372 = [176, 812, 2660, 3464, 6480, 7752, 9780]
s6371 = [6984, 8256, 8688, 8760, 9084, 9516]
s6369 = [9408]
s6367 = [128, 6180]
s6363 = [4112]

# further samples read from the solid stretches of the densest rows
more_6406 = [30, 155, 280, 410, 540, 670, 840, 965, 1095, 1225, 1350, 1480, 1610, 1735, 1860, 1990, 2115, 2245, 2370, 2500, 2630, 2755, 2880, 3010, 3135, 3265, 3390, 3515, 3645, 3770, 3905, 4035, 4160, 4285, 4430, 4555, 4685, 4810, 4940, 5065, 5190, 5320, 5640, 5770, 5895, 6140, 6300, 6425, 6555, 6680, 6935, 7062, 7360, 7655, 7785, 7910, 8035, 8165, 8290, 8418, 8545, 8670, 8798, 8925, 9050, 9178, 9392, 9520, 9645, 9772]
more_6405 = [30, 190, 260, 385, 450, 515, 660, 725, 790, 860, 925, 1030, 1100, 1165, 1230, 1340, 1405, 1470, 1540, 1670, 1735, 1800, 1865, 1930, 2150, 2215, 2280, 2345, 2410, 2475, 2545, 2670, 2735, 2930, 2995, 3060, 3125, 3195, 3330, 3425, 3490, 3555, 3620, 3695, 3985, 4055, 4185, 4250, 4317, 4380, 4450, 4605, 4670, 4735, 4800, 4865, 4930, 5720, 5785, 5850, 5915, 5990, 6020, 6640, 6705, 6770, 7005, 7070, 7150, 7955, 8020, 8085, 8150, 8215, 8280, 8395, 8460, 8530, 8590, 8650, 8905, 8970, 9035, 9170, 9235, 9300, 9430, 9495, 9560]
more_6404 = [210, 270, 390, 455, 520, 585, 650, 715, 910, 975, 1040, 1105, 1170, 1415, 1480, 1545, 1610, 1675, 1740, 2035, 2100, 2165, 2230, 2295, 2360, 2430, 2655, 2720, 2785, 2845, 2975, 3040, 3105, 3170, 3235, 3300, 3365, 3430, 3570, 3635, 3700, 3765, 3830, 3985, 4050, 4115, 4180, 4245, 4310, 4375, 4440, 4565, 4630, 4695, 4760, 4825, 5010, 5075, 5140, 5460, 5525, 5590, 5655, 5720, 5785, 5850, 5915, 5980, 6160, 6225, 6290, 6355, 6420, 6485, 6550, 6615, 6680, 6745, 6838, 6902, 6968, 7032, 7098, 7162, 7228, 7292, 7358, 7422, 7488, 7552, 7615, 8475, 8540, 8605, 8825, 8890, 8955, 9350, 9415, 9480, 9545, 9610]
more_6403 = [32, 98, 162, 235, 472, 538, 602, 668, 732, 798, 862, 928, 1000, 1152, 1218, 1282, 1348, 1412, 1478, 1542, 1608, 1672, 1738, 1802, 1868, 1950, 2072, 2252, 2318, 2382, 2448, 2612, 2678, 2742, 2808, 2872, 2938, 3002, 3068, 3132, 3198, 3262, 3428, 3492, 3558, 3622, 3688, 3752, 3818, 3882, 3948, 4012, 4078, 4142, 4208, 4272, 4338, 4402, 4468, 4785, 4850, 4915, 4980, 5045, 5110, 5175, 5240, 5472, 5538, 5602, 5668, 5732, 5798, 5862, 5928, 6200, 6265, 6330, 6395, 6460, 6525, 6590, 6655, 6720, 6912, 6975, 7298, 7362, 7428, 7492, 7558, 7756, 7822, 7886, 7952, 8016, 8155, 8220, 8285, 8350, 8415, 8480, 8815, 8880, 8945, 9320, 9385, 9450, 9515, 9580]
more_6402 = [142, 208, 272, 338, 402, 572, 638, 812, 878, 942, 1008, 1072, 1138, 1205, 1352, 1562, 1628, 1692, 1758, 1822, 1888, 1960, 2072, 2138, 2202, 2278, 2452, 2518, 2582, 2648, 2712, 2778, 2842, 2908, 2972, 3038, 3102, 3168, 3232, 3298, 3362, 3428, 3885, 3950, 4015, 4080, 4145, 4210, 4275, 4340, 4420, 4565, 4630, 4695, 4760, 4825, 5023, 5088, 5580, 5645, 5810, 5875, 5940, 6120, 6185, 6250, 6315, 6380, 6445, 6510, 6575, 6640, 6840, 6905, 7078, 7143, 7208, 7273, 7338, 7403, 7468, 7533, 7598, 7663, 7740, 8335, 8400, 8465, 8530, 8595, 8660, 9073, 9138, 9360, 9532, 9597, 9662, 9727]
more_6401 = [995, 1060, 1125, 1192, 1258, 1322, 1388, 1452, 1518, 1582, 1648, 1712, 1778, 1842, 1930, 2052, 2118, 2182, 2248, 2452, 2518, 2582, 2648, 3112, 3178, 3242, 3308, 3372, 3745, 3810, 3875, 3940, 4005, 4070, 4145, 4445, 4510, 4575, 4640, 4735, 4984, 5049, 5114, 5179, 5250, 5362, 5428, 5492, 5558, 5882, 5947, 6012, 6077, 6142, 6220, 6500, 6565, 6860, 6925, 6990, 7098, 7163, 7478, 7543, 7608, 7673, 7738, 7803, 7868, 7933, 7998, 8063, 8130, 8355, 8420, 8485, 8550, 8615, 8680, 8745, 8810, 8870, 9154, 9219, 9284, 9349, 9414, 9479, 9544, 9609, 9674, 9739, 9800]
more_6400 = [75, 140, 205, 300, 475, 540, 605, 680, 835, 900, 965, 1030, 1095, 1160, 1225, 1290, 1355, 1420, 1485, 1550, 1615, 1680, 1745, 1810, 1875, 1960, 2115, 2180, 2245, 2310, 2375, 2440, 2505, 2570, 2635, 2700, 2815, 2880, 2945, 3010, 3075, 3140, 3205, 3270, 3430, 3495, 3558, 3622, 3688, 3770, 3887, 3952, 4017, 4082, 4147, 4212, 4277, 4342, 4420, 4545, 4610, 4675, 4750, 4924, 4989, 5054, 5119, 5190, 5350, 5415, 5500, 5662, 5727, 5792, 5857, 5922, 5987, 6052, 6117, 6190, 6360, 6425, 6490, 6555, 6820, 6885, 6950, 7030, 7167, 7232, 7297, 7362, 7427, 7492, 7557, 7622, 7687, 7752, 7817, 7882, 7947, 8020, 8156, 8221, 8286, 8351, 8416, 8481, 8546, 8611, 8676, 8741, 8805, 9134, 9199, 9264, 9329, 9400, 9513, 9578, 9643, 9708, 9775, 9815]
more_6399 = [115, 180, 245, 310, 375, 440, 505, 570, 635, 700, 765, 830, 895, 985, 1115, 1180, 1245, 1310, 1375, 1440, 1505, 1590, 1775, 1840, 1905, 1970, 2035, 2100, 2165, 2230, 2295, 2400, 2543, 2608, 2673, 2738, 2803, 2868, 3087, 3152, 3217, 3282, 3347, 3430, 3490, 3557, 3622, 3700, 3997, 4062, 4127, 4192, 4257, 4330, 4452, 4517, 4582, 4647, 4712, 4777, 4842, 4907, 4972, 5037, 5102, 5167, 5232, 5297, 5362, 5427, 5492, 5557, 5622, 5687, 5752, 5817, 5882, 5947, 6012, 6077, 6142, 6207, 6290, 6760, 6840, 6905, 6970, 7035, 7100, 7165, 7230, 7295, 7360, 7425, 7500, 7877, 7942, 8007, 8072, 8284, 8349, 8414, 8480, 8602, 8795, 8860, 8925, 8990, 9055, 9130, 9241, 9330, 9473, 9538, 9603, 9668, 9733, 9798]
more_6398 = [32, 98, 162, 228, 292, 358, 422, 488, 552, 618, 682, 748, 812, 878, 942, 1020, 1134, 1200, 1290, 1434, 1500, 1564, 1630, 1694, 1760, 1824, 1890, 1954, 2020, 2084, 2150, 2214, 2280, 2344, 2410, 2474, 2540, 2604, 2670, 2734, 2800, 2864, 2930, 2994, 3060, 3124, 3190, 3254, 3320, 3384, 3450, 3514, 3580, 3644, 3710, 3774, 3840, 3904, 3970, 4034, 4100, 4164, 4230, 4294, 4360, 4424, 4490, 4554, 4620, 4684, 4750, 4814, 4880, 4944, 5010, 5074, 5140, 5204, 5285, 5442, 5508, 5572, 5638, 5702, 5768, 5832, 5898, 5962, 6028, 6092, 6175, 6320, 6385, 6450, 6530, 6840, 6905, 6970, 7035, 7100, 7165, 7230, 7295, 7360, 7425, 7490, 7555, 7620, 7796, 7861, 7926, 7991, 8056, 8121, 8186, 8251, 8330, 8555, 8620, 8685, 8750, 8815, 8880, 8945, 9010, 9075, 9162, 9227, 9292, 9357, 9422, 9487, 9552, 9617, 9682, 9747, 9820]
more_6397 = [55, 120, 185, 250, 330, 455, 520, 585, 650, 715, 780, 845, 910, 975, 1040, 1105, 1170, 1235, 1300, 1365, 1460, 1595, 1660, 1750, 1875, 1940, 2005, 2070, 2135, 2200, 2265, 2330, 2395, 2460, 2525, 2590, 2655, 2720, 2785, 2850, 2915, 2980, 3045, 3110, 3175, 3240, 3305, 3370, 3435, 3500, 3565, 3630, 3695, 3780, 3887, 3952, 4017, 4082, 4147, 4212, 4277, 4342, 4407, 4472, 4537, 4602, 4667, 4732, 4797, 4862, 4927, 4992, 5057, 5140, 5262, 5327, 5392, 5457, 5522, 5587, 5655, 5862, 5927, 5992, 6057, 6122, 6187, 6252, 6317, 6382, 6447, 6512, 6577, 6642, 6707, 6772, 6840, 6905, 6970, 7035, 7100, 7165, 7230, 7295, 7360, 7425, 7490, 7555, 7620, 7685, 7750, 7815, 7880, 7945, 8030, 8135, 8315, 8380, 8445, 8510, 8575, 8645, 8855, 8920, 8985, 9050, 9115, 9180, 9245, 9310, 9385, 9492, 9557, 9622, 9687, 9752, 9830]
more_6396 = [32, 98, 162, 228, 292, 358, 422, 488, 552, 618, 682, 748, 812, 890, 1075, 1140, 1205, 1270, 1335, 1400, 1465, 1530, 1595, 1660, 1725, 1790, 1855, 1920, 1985, 2050, 2115, 2180, 2245, 2310, 2375, 2440, 2505, 2570, 2630, 2835, 2900, 2965, 3030, 3095, 3170, 3295, 3903, 3968, 4033, 4098, 4163, 4228, 4293, 4385, 4450, 4612, 4677, 4742, 4810, 4904, 4969, 5034, 5099, 5164, 5250, 5375, 5440, 5505, 5570, 5645, 6120, 6185, 6250, 6315, 6380, 6445, 6510, 6575, 6640, 6705, 6770, 6840, 6905, 6970, 7035, 7100, 7175, 7278, 7343, 7408, 7490, 7857, 7922, 7987, 8052, 8117, 8182, 8247, 8312, 8377, 8442, 8507, 8572, 8637, 8702, 8770, 8974, 9039, 9104, 9180, 9320, 9385, 9450, 9515, 9580, 9645, 9710, 9800]
more_6395 = [32, 98, 162, 228, 305, 406, 480, 582, 648, 720, 822, 920, 1035, 1120, 1255, 1320, 1385, 1450, 1540, 1655, 1720, 1800, 2015, 2080, 2145, 2220, 2335, 2400, 2465, 2530, 2610, 2715, 2780, 2845, 2910, 2975, 3060, 3215, 3280, 3345, 3430, 3490, 3558, 3622, 3710, 4165, 4230, 4295, 4360, 4425, 4490, 4555, 4620, 4710, 4885, 4950, 5015, 5100, 5235, 5300, 5365, 5430, 5495, 5560, 5625, 5690, 5755, 5820, 5885, 5950, 6035, 6280, 6345, 6410, 6475, 6540, 6605, 6670, 6750, 6918, 6983, 7048, 7113, 7180, 7357, 7422, 7487, 7552, 7617, 7682, 7747, 7812, 7877, 7942, 8007, 8070, 8164, 8229, 8294, 8359, 8424, 8489, 8554, 8619, 8700, 8815, 8880, 8945, 9010, 9075, 9140, 9215, 9314, 9379, 9444, 9508, 9632, 9710]
more_6394 = [46, 112, 176, 242, 306, 372, 436, 502, 566, 660, 806, 872, 936, 1002, 1066, 1132, 1225, 1395, 1460, 1525, 1590, 1655, 1745, 1855, 1920, 1985, 2050, 2115, 2180, 2245, 2310, 2375, 2440, 2505, 2570, 2660, 2795, 2860, 2925, 2990, 3060, 3195, 3260, 3325, 3415, 3568, 3632, 3710, 3975, 4040, 4130, 4345, 4410, 4475, 4540, 4605, 4670, 4735, 4800, 4865, 4930, 4995, 5060, 5125, 5190, 5255, 5320, 5385, 5450, 5515, 5580, 5670, 5781, 5846, 5911, 5976, 6041, 6106, 6171, 6236, 6320, 6487, 6552, 6617, 6682, 6760, 6840, 6930, 7178, 7243, 7308, 7373, 7455, 7577, 7642, 7707, 7772, 7860, 8004, 8069, 8134, 8199, 8264, 8340, 8455, 8520, 8610, 8734, 8799, 8864, 8929, 8994, 9059, 9124, 9189, 9254, 9330, 9444, 9509, 9574, 9639, 9704, 9769, 9835]
more_6393 = [32, 98, 162, 228, 292, 358, 422, 488, 590, 695, 760, 825, 890, 955, 1020, 1085, 1150, 1215, 1280, 1345, 1410, 1475, 1540, 1605, 1670, 1735, 1800, 1865, 1955, 2020, 2085, 2160, 2452, 2517, 2582, 2647, 2712, 2777, 2842, 2907, 3000, 3126, 3191, 3256, 3321, 3386, 3528, 3593, 3658, 3723, 3788, 3853, 3918, 3983, 4048, 4113, 4178, 4243, 4308, 4373, 4438, 4503, 4568, 4633, 4698, 4763, 4828, 4895, 4984, 5049, 5114, 5200, 5315, 5380, 5445, 5510, 5575, 5640, 5705, 5770, 5835, 5900, 5965, 6030, 6095, 6160, 6225, 6290, 6355, 6460, 6600, 6665, 6750, 6913, 7038, 7103, 7168, 7233, 7298, 7363, 7428, 7493, 7558, 7623, 7688, 7753, 7818, 7883, 7948, 8013, 8078, 8143, 8208, 8273, 8338, 8403, 8468, 8533, 8598, 8663, 8728, 8793, 8858, 8923, 9092, 9157, 9222, 9287, 9352, 9417, 9482, 9547, 9612, 9677, 9742, 9820]

level_samples = {
    6428: s6428, 6423: s6423, 6422: s6422, 6421: s6421, 6420: s6420, 6419: s6419, 6418: s6418,
    6417: s6417, 6416: s6416, 6415: s6415, 6414: s6414, 6413: s6413, 6412: s6412, 6411: s6411,
    6410: s6410, 6409: s6409, 6408: s6408, 6407: s6407, 6406: s6406 + more_6406, 6405: s6405 + more_6405,
    6404: s6404 + more_6404, 6403: s6403 + more_6403, 6402: s6402 + more_6402, 6401: s6401 + more_6401,
    6400: s6400 + more_6400, 6399: s6399 + more_6399, 6398: s6398 + more_6398, 6397: s6397 + more_6397,
    6396: s6396 + more_6396, 6395: s6395 + more_6395, 6394: s6394 + more_6394, 6393: s6393 + more_6393,
    6392: s6392, 6391: s6391, 6390: s6390,
    6389: s6389, 6388: s6388, 6387: s6387, 6386: s6386, 6385: s6385, 6384: s6384, 6383: s6383,
    6382: s6382, 6381: s6381, 6380: s6380, 6379: s6379, 6378: s6378, 6377: s6377, 6376: s6376,
    6375: s6375, 6374: s6374, 6373: s6373, 6372: s6372, 6371: s6371, 6369: s6369, 6367: s6367,
    6363: s6363,
}

df = pd.DataFrame(
    [(x, adc) for adc, xs in level_samples.items() for x in xs],
    columns=["sample", "adc"],
)

fig, ax = plt.subplots(figsize=(10, 10), dpi=100)
sns.scatterplot(
    data=df, x="sample", y="adc", ax=ax, marker=".", s=36, color="black",
    edgecolor="black", linewidth=1, zorder=2,
    label="Samples\n$\\mu$ = 6397.25, $\\sigma$ = 8.18",
)
ax.set_xlim(-492, 10342)
ax.set_ylim(6359.75, 6431.25)
ax.set_xlabel("Sample #")
ax.set_ylabel("ADC Counts")
ax.set_title("Run 661, channel044, Pedestal")
ax.grid(True)
ax.legend(loc="upper right")
fig.subplots_adjust(left=0.0797, right=0.985, top=0.9637, bottom=0.0587)
fig.savefig("out.png", dpi=100)
